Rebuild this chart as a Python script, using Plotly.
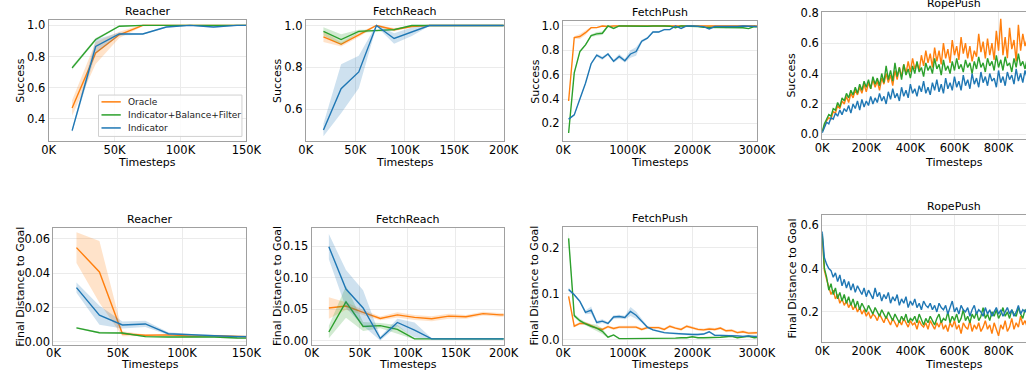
import plotly.graph_objects as go

W, H = 1030, 374          # reference picture size (layout positions are given in these pixels)
PAGE_W = 1045             # page width that the photographed window shows across its 1030 pixels
FONT = "DejaVu Sans"

# ---------------- data ----------------
SERIES = ["Oracle", "Indicator+Balance+Filter", "Indicator"]
COLORS = {"Oracle": "#ff7f0e", "Indicator+Balance+Filter": "#2ca02c", "Indicator": "#1f77b4"}
BANDS = {"Oracle": "rgba(255,127,14,0.22)", "Indicator+Balance+Filter": "rgba(44,160,44,0.22)",
         "Indicator": "rgba(31,119,180,0.22)"}

reacher_x = [17857, 35714, 53571, 71429, 89286, 107143, 125000, 142857, 160714]
fetchreach_x = [17857, 35714, 53571, 71429, 89286, 107143, 125000, 142857, 160714, 178571, 196429, 214286]
fetchpush_x = [87000 * k for k in range(1, 36)]
ropepush_x = [10000 * k for k in range(0, 94)]

# Reacher success
reacher_succ_oracle = [0.47, 0.823, 0.94, 1.0, 1.0, 1.0, 1.0, 1.0, 1.0]
reacher_succ_oracle_err = [0.05, 0.07, 0.02, 0.005, 0.003, 0.003, 0.005, 0.003, 0.003]
reacher_succ_ibf = [0.728, 0.91, 0.995, 1.0, 1.0, 1.0, 1.0, 1.0, 1.0]
reacher_succ_ibf_err = [0.012, 0.01, 0.004, 0.002, 0.002, 0.002, 0.002, 0.002, 0.002]
reacher_succ_ind = [0.325, 0.865, 0.945, 0.945, 0.99, 1.0, 0.99, 1.0, 1.0]
reacher_succ_ind_err = [0.01, 0.045, 0.01, 0.005, 0.005, 0.003, 0.005, 0.003, 0.003]

# Reacher distance
reacher_dist_oracle = [0.0549, 0.0407, 0.0047, 0.0038, 0.004, 0.0033, 0.0036, 0.0028, 0.0027]
reacher_dist_oracle_err = [0.009, 0.018, 0.0015, 0.0005, 0.0005, 0.0005, 0.0005, 0.0005, 0.0005]
reacher_dist_ibf = [0.0081, 0.0053, 0.0051, 0.003, 0.0028, 0.003, 0.0028, 0.0022, 0.0021]
reacher_dist_ibf_err = [0.0005, 0.0005, 0.0005, 0.0004, 0.0004, 0.0004, 0.0004, 0.0004, 0.0004]
reacher_dist_ind = [0.0316, 0.0155, 0.0098, 0.0104, 0.0047, 0.004, 0.0035, 0.003, 0.003]
reacher_dist_ind_err = [0.003, 0.0055, 0.002, 0.0018, 0.0008, 0.0005, 0.0005, 0.0005, 0.0005]

# FetchReach success
fetchreach_succ_oracle = [0.946, 0.91, 0.955, 1.0, 0.98, 0.995, 1.0, 1.0, 1.0, 1.0, 1.0, 1.0]
fetchreach_succ_oracle_err = [0.025, 0.01, 0.01, 0.003, 0.008, 0.003, 0.002, 0.002, 0.002, 0.002, 0.002, 0.002]
fetchreach_succ_ibf = [0.972, 0.933, 0.972, 0.975, 0.98, 1.0, 1.0, 1.0, 1.0, 1.0, 1.0, 1.0]
fetchreach_succ_ibf_err = [0.02, 0.025, 0.008, 0.005, 0.005, 0.002, 0.002, 0.002, 0.002, 0.002, 0.002, 0.002]
fetchreach_succ_ind = [0.501, 0.698, 0.778, 1.0, 0.938, 0.97, 1.0, 1.0, 1.0, 1.0, 1.0, 1.0]
fetchreach_succ_ind_err = [0.03, 0.117, 0.078, 0.005, 0.025, 0.02, 0.002, 0.002, 0.002, 0.002, 0.002, 0.002]

# FetchReach distance
fetchreach_dist_oracle = [0.052, 0.055, 0.045, 0.0354, 0.041, 0.037, 0.035, 0.039, 0.038, 0.043, 0.041, 0.041]
fetchreach_dist_oracle_err = [0.017, 0.006, 0.004, 0.003, 0.004, 0.004, 0.004, 0.004, 0.003, 0.003, 0.003, 0.003]
fetchreach_dist_ibf = [0.0139, 0.0616, 0.0226, 0.024, 0.018, 0.003, 0.003, 0.003, 0.003, 0.003, 0.003, 0.003]
fetchreach_dist_ibf_err = [0.01, 0.025, 0.007, 0.004, 0.007, 0.001, 0.001, 0.001, 0.001, 0.001, 0.001, 0.001]
fetchreach_dist_ind = [0.149, 0.082, 0.052, 0.0036, 0.029, 0.017, 0.003, 0.003, 0.003, 0.003, 0.003, 0.003]
fetchreach_dist_ind_err = [0.02, 0.03, 0.028, 0.003, 0.006, 0.012, 0.001, 0.001, 0.001, 0.001, 0.001, 0.001]

# FetchPush success
fetchpush_succ_oracle = [0.384, 0.905, 0.913, 0.945, 0.986, 0.986, 1.0, 0.995, 1.0, 1.0, 1.0, 0.998,
                         1.0, 1.0, 0.997, 1.0, 1.0, 0.995, 1.0, 1.0, 0.998, 1.0, 1.0, 0.997, 1.0,
                         0.998, 1.0, 0.996, 0.998, 1.0, 0.997, 1.0, 0.998, 0.997, 1.0]
fetchpush_succ_oracle_err = [0.005, 0.01, 0.02, 0.02, 0.008, 0.005, 0.003, 0.003, 0.003, 0.003, 0.003, 0.003,
                             0.003, 0.003, 0.003, 0.003, 0.003, 0.003, 0.003, 0.003, 0.003, 0.003, 0.003,
                             0.003, 0.003, 0.003, 0.003, 0.003, 0.003, 0.003, 0.003, 0.003, 0.003, 0.003, 0.003]
fetchpush_succ_ibf = [0.121, 0.615, 0.79, 0.845, 0.92, 0.935, 0.94, 1.0, 0.98, 1.0, 1.0, 0.998, 1.0,
                      1.0, 0.998, 1.0, 0.997, 1.0, 0.998, 0.985, 1.0, 1.0, 0.995, 0.995, 0.99, 0.99,
                      0.985, 0.99, 0.985, 0.99, 0.99, 0.985, 0.978, 0.995, 0.99]
fetchpush_succ_ibf_err = [0.005, 0.01, 0.01, 0.01, 0.01, 0.015, 0.015, 0.005, 0.005, 0.003, 0.003, 0.003,
                          0.003, 0.003, 0.003, 0.003, 0.003, 0.003, 0.003, 0.003, 0.003, 0.003, 0.003,
                          0.003, 0.003, 0.003, 0.003, 0.003, 0.003, 0.003, 0.003, 0.003, 0.003, 0.003, 0.003]
fetchpush_succ_ind = [0.235, 0.27, 0.40, 0.53, 0.69, 0.76, 0.735, 0.77, 0.71, 0.75, 0.715, 0.77, 0.79,
                      0.875, 0.90, 0.95, 0.95, 0.97, 0.97, 1.0, 0.98, 1.0, 1.0, 0.995, 0.995, 0.975,
                      0.995, 0.995, 0.995, 0.99, 0.995, 1.0, 1.0, 0.995, 0.995]
fetchpush_succ_ind_err = [0.008, 0.008, 0.008, 0.008, 0.01, 0.012, 0.015, 0.01, 0.012, 0.02, 0.015, 0.03,
                          0.035, 0.012, 0.01, 0.008, 0.008, 0.008, 0.006, 0.003, 0.003, 0.003, 0.003,
                          0.003, 0.003, 0.003, 0.003, 0.003, 0.003, 0.003, 0.003, 0.003, 0.003, 0.003, 0.003]

# FetchPush distance
fetchpush_dist_oracle = [0.094, 0.029, 0.035, 0.035, 0.03, 0.025, 0.022, 0.028, 0.024, 0.027, 0.027,
                         0.027, 0.027, 0.022, 0.026, 0.026, 0.026, 0.022, 0.029, 0.025, 0.022, 0.029,
                         0.025, 0.022, 0.021, 0.023, 0.022, 0.025, 0.019, 0.02, 0.015, 0.017, 0.014,
                         0.015, 0.015]
fetchpush_dist_oracle_err = [0.004, 0.003, 0.003, 0.003, 0.003, 0.003, 0.003, 0.003, 0.003, 0.003, 0.003,
                             0.003, 0.003, 0.003, 0.003, 0.003, 0.003, 0.003, 0.003, 0.003, 0.003, 0.003,
                             0.003, 0.003, 0.003, 0.003, 0.003, 0.003, 0.003, 0.003, 0.003, 0.003, 0.003,
                             0.003, 0.003]
fetchpush_dist_ibf = [0.22, 0.052, 0.041, 0.034, 0.029, 0.025, 0.018, 0.005, 0.01, 0.002, 0.002, 0.002,
                      0.002, 0.002, 0.003, 0.003, 0.003, 0.003, 0.002, 0.003, 0.004, 0.004, 0.006, 0.004,
                      0.004, 0.004, 0.005, 0.005, 0.006, 0.007, 0.004, 0.006, 0.007, 0.004, 0.005]
fetchpush_dist_ibf_err = [0.015, 0.004, 0.004, 0.004, 0.005, 0.007, 0.006, 0.002, 0.002, 0.001, 0.001,
                          0.001, 0.001, 0.001, 0.001, 0.001, 0.001, 0.001, 0.001, 0.001, 0.001, 0.001,
                          0.001, 0.001, 0.001, 0.001, 0.001, 0.001, 0.001, 0.001, 0.001, 0.001, 0.001,
                          0.001, 0.001]
fetchpush_dist_ind = [0.109, 0.0975, 0.083, 0.059, 0.064, 0.037, 0.04, 0.035, 0.049, 0.05, 0.048, 0.061,
                      0.053, 0.041, 0.027, 0.021, 0.018, 0.015, 0.014, 0.013, 0.012, 0.011, 0.011, 0.011,
                      0.012, 0.017, 0.009, 0.009, 0.009, 0.008, 0.008, 0.007, 0.008, 0.007, 0.007]
fetchpush_dist_ind_err = [0.004, 0.003, 0.003, 0.004, 0.008, 0.004, 0.004, 0.003, 0.004, 0.004, 0.004,
                          0.01, 0.008, 0.004, 0.003, 0.002, 0.002, 0.002, 0.002, 0.002, 0.002, 0.002,
                          0.002, 0.002, 0.002, 0.002, 0.002, 0.002, 0.002, 0.002, 0.002, 0.002, 0.002,
                          0.002, 0.002]

# RopePush success (every 10K steps)
ropepush_succ_oracle = [0.02, 0.06, 0.09, 0.11, 0.10, 0.15, 0.14, 0.19, 0.17, 0.22,
                        0.20, 0.25, 0.21, 0.27, 0.24, 0.29, 0.26, 0.31, 0.27, 0.33,
                        0.28, 0.34, 0.30, 0.36, 0.31, 0.35, 0.29, 0.37, 0.33, 0.40,
                        0.34, 0.39, 0.32, 0.42, 0.36, 0.44, 0.38, 0.46, 0.40, 0.48,
                        0.41, 0.50, 0.43, 0.47, 0.42, 0.52, 0.45, 0.55, 0.47, 0.53,
                        0.44, 0.57, 0.48, 0.55, 0.46, 0.60, 0.50, 0.56, 0.47, 0.62,
                        0.52, 0.58, 0.49, 0.64, 0.53, 0.60, 0.50, 0.58, 0.48, 0.55,
                        0.51, 0.66, 0.54, 0.61, 0.50, 0.63, 0.52, 0.60, 0.49, 0.68,
                        0.55, 0.76, 0.52, 0.64, 0.50, 0.70, 0.56, 0.62, 0.48, 0.72,
                        0.55, 0.66, 0.58, 0.63]
ropepush_succ_ibf = [0.02, 0.07, 0.10, 0.13, 0.12, 0.17, 0.16, 0.21, 0.18, 0.24,
                     0.22, 0.27, 0.24, 0.29, 0.26, 0.31, 0.27, 0.33, 0.29, 0.35,
                     0.31, 0.36, 0.30, 0.38, 0.33, 0.37, 0.32, 0.40, 0.34, 0.45,
                     0.36, 0.42, 0.35, 0.47, 0.38, 0.44, 0.36, 0.46, 0.39, 0.43,
                     0.37, 0.45, 0.40, 0.48, 0.41, 0.44, 0.38, 0.47, 0.42, 0.45,
                     0.40, 0.50, 0.43, 0.46, 0.39, 0.49, 0.42, 0.45, 0.40, 0.48,
                     0.42, 0.50, 0.43, 0.46, 0.41, 0.49, 0.44, 0.47, 0.40, 0.48,
                     0.43, 0.51, 0.44, 0.47, 0.41, 0.50, 0.45, 0.48, 0.42, 0.52,
                     0.44, 0.49, 0.42, 0.51, 0.45, 0.47, 0.41, 0.50, 0.44, 0.53,
                     0.45, 0.48, 0.43, 0.50]
ropepush_succ_ind = [0.01, 0.05, 0.08, 0.07, 0.11, 0.10, 0.14, 0.12, 0.16, 0.13,
                     0.17, 0.15, 0.19, 0.14, 0.20, 0.17, 0.22, 0.16, 0.23, 0.18,
                     0.22, 0.19, 0.25, 0.20, 0.24, 0.21, 0.27, 0.22, 0.25, 0.20,
                     0.28, 0.23, 0.30, 0.24, 0.27, 0.22, 0.31, 0.25, 0.29, 0.24,
                     0.33, 0.27, 0.30, 0.25, 0.32, 0.28, 0.35, 0.27, 0.31, 0.26,
                     0.34, 0.29, 0.36, 0.28, 0.33, 0.27, 0.37, 0.30, 0.34, 0.29,
                     0.38, 0.31, 0.35, 0.29, 0.39, 0.32, 0.36, 0.30, 0.40, 0.33,
                     0.37, 0.31, 0.41, 0.34, 0.38, 0.32, 0.40, 0.35, 0.37, 0.31,
                     0.42, 0.34, 0.38, 0.32, 0.41, 0.36, 0.39, 0.33, 0.43, 0.35,
                     0.40, 0.34, 0.42, 0.37]

# RopePush distance
ropepush_dist_oracle = [0.55, 0.39, 0.35, 0.31, 0.28, 0.30, 0.26, 0.28, 0.24, 0.26,
                        0.23, 0.25, 0.22, 0.24, 0.21, 0.23, 0.20, 0.22, 0.19, 0.21,
                        0.18, 0.20, 0.17, 0.19, 0.18, 0.16, 0.19, 0.17, 0.15, 0.18,
                        0.16, 0.14, 0.17, 0.15, 0.13, 0.16, 0.14, 0.17, 0.15, 0.13,
                        0.16, 0.14, 0.15, 0.12, 0.16, 0.14, 0.13, 0.15, 0.12, 0.16,
                        0.14, 0.12, 0.15, 0.13, 0.16, 0.12, 0.14, 0.11, 0.15, 0.13,
                        0.16, 0.12, 0.14, 0.10, 0.15, 0.13, 0.12, 0.16, 0.11, 0.14,
                        0.12, 0.15, 0.11, 0.13, 0.16, 0.12, 0.14, 0.10, 0.15, 0.12,
                        0.09, 0.14, 0.12, 0.16, 0.11, 0.13, 0.17, 0.12, 0.15, 0.13,
                        0.18, 0.14, 0.16, 0.13]
ropepush_dist_ibf = [0.56, 0.40, 0.36, 0.30, 0.33, 0.28, 0.31, 0.26, 0.29, 0.25,
                     0.28, 0.24, 0.27, 0.23, 0.26, 0.22, 0.25, 0.21, 0.24, 0.22,
                     0.20, 0.23, 0.21, 0.19, 0.22, 0.20, 0.18, 0.21, 0.19, 0.17,
                     0.20, 0.18, 0.16, 0.19, 0.17, 0.15, 0.18, 0.16, 0.19, 0.15,
                     0.17, 0.16, 0.18, 0.15, 0.19, 0.16, 0.14, 0.17, 0.15, 0.18,
                     0.16, 0.14, 0.17, 0.19, 0.15, 0.17, 0.16, 0.20, 0.15, 0.18,
                     0.16, 0.19, 0.15, 0.17, 0.21, 0.16, 0.18, 0.15, 0.19, 0.17,
                     0.20, 0.16, 0.18, 0.22, 0.17, 0.19, 0.16, 0.20, 0.18, 0.21,
                     0.17, 0.19, 0.22, 0.18, 0.20, 0.17, 0.21, 0.19, 0.18, 0.22,
                     0.19, 0.17, 0.21, 0.20]
ropepush_dist_ind = [0.57, 0.45, 0.42, 0.40, 0.39, 0.36, 0.38, 0.34, 0.37, 0.32,
                     0.35, 0.31, 0.34, 0.30, 0.33, 0.29, 0.32, 0.30, 0.28, 0.31,
                     0.27, 0.30, 0.28, 0.26, 0.31, 0.27, 0.29, 0.25, 0.28, 0.26,
                     0.29, 0.24, 0.27, 0.25, 0.28, 0.23, 0.26, 0.24, 0.27, 0.22,
                     0.25, 0.23, 0.26, 0.22, 0.24, 0.21, 0.25, 0.23, 0.22, 0.24,
                     0.21, 0.23, 0.20, 0.24, 0.22, 0.21, 0.23, 0.19, 0.22, 0.25,
                     0.20, 0.22, 0.19, 0.23, 0.21, 0.20, 0.22, 0.18, 0.21, 0.23,
                     0.19, 0.21, 0.20, 0.18, 0.22, 0.19, 0.21, 0.18, 0.20, 0.22,
                     0.19, 0.21, 0.18, 0.20, 0.22, 0.19, 0.21, 0.18, 0.20, 0.23,
                     0.19, 0.21, 0.20, 0.22]

# tick labels
xt_reacher = [0, 50000, 100000, 150000]
xl_reacher = ["0K", "50K", "100K", "150K"]
xt_fetchreach = [0, 50000, 100000, 150000, 200000]
xl_fetchreach = ["0K", "50K", "100K", "150K", "200K"]
xt_fetchpush = [0, 1000000, 2000000, 3000000]
xl_fetchpush = ["0K", "1000K", "2000K", "3000K"]
xt_ropepush = [0, 200000, 400000, 600000, 800000]
xl_ropepush = ["0K", "200K", "400K", "600K", "800K"]

# ---------------- panels ----------------
# box in reference pixels: (left, right, top, bottom)
panels = [
    dict(name="Reacher", box=(42, 242, 14, 139), xr=[0, 150000], yr=[0.257, 1.037],
         xt=xt_reacher, xl=xl_reacher, yt=[0.4, 0.6, 0.8, 1.0], yl=["0.4", "0.6", "0.8", "1.0"],
         ytitle="Success", ytx=13.5, x=reacher_x,
         data=[(reacher_succ_oracle, reacher_succ_oracle_err), (reacher_succ_ibf, reacher_succ_ibf_err),
               (reacher_succ_ind, reacher_succ_ind_err)], right=True),
    dict(name="FetchReach", box=(302, 502, 14, 139), xr=[0, 200000], yr=[0.447, 1.028],
         xt=xt_fetchreach, xl=xl_fetchreach, yt=[0.6, 0.8, 1.0], yl=["0.6", "0.8", "1.0"],
         ytitle="Success", ytx=273.5, x=fetchreach_x,
         data=[(fetchreach_succ_oracle, fetchreach_succ_oracle_err), (fetchreach_succ_ibf, fetchreach_succ_ibf_err),
               (fetchreach_succ_ind, fetchreach_succ_ind_err)], right=True),
    dict(name="FetchPush", box=(562, 758, 15, 139), xr=[0, 3000000], yr=[0.0535, 1.044],
         xt=xt_fetchpush, xl=xl_fetchpush, yt=[0.2, 0.4, 0.6, 0.8, 1.0], yl=["0.2", "0.4", "0.6", "0.8", "1.0"],
         ytitle="Success", ytx=534.5, x=fetchpush_x,
         data=[(fetchpush_succ_oracle, fetchpush_succ_oracle_err), (fetchpush_succ_ibf, fetchpush_succ_ibf_err),
               (fetchpush_succ_ind, fetchpush_succ_ind_err)], right=True),
    dict(name="RopePush", box=(824, 1030, 6, 137), xr=[0, 924500], yr=[-0.032, 0.805],
         xt=xt_ropepush, xl=xl_ropepush, yt=[0.0, 0.2, 0.4, 0.6, 0.8], yl=["0.0", "0.2", "0.4", "0.6", "0.8"],
         ytitle="Success", ytx=793.5, x=ropepush_x,
         data=[(ropepush_succ_oracle, None), (ropepush_succ_ibf, None), (ropepush_succ_ind, None)], right=False),
    dict(name="Reacher", box=(47, 242, 228, 348), xr=[0, 150000], yr=[-0.0017, 0.0664],
         xt=xt_reacher, xl=xl_reacher, yt=[0.0, 0.02, 0.04, 0.06], yl=["0.00", "0.02", "0.04", "0.06"],
         ytitle="Final Distance to Goal", ytx=13.5, x=reacher_x,
         data=[(reacher_dist_oracle, reacher_dist_oracle_err), (reacher_dist_ibf, reacher_dist_ibf_err),
               (reacher_dist_ind, reacher_dist_ind_err)], right=True),
    dict(name="FetchReach", box=(308, 502, 228, 348), xr=[0, 200000], yr=[-0.0062, 0.1788],
         xt=xt_fetchreach, xl=xl_fetchreach, yt=[0.0, 0.05, 0.10, 0.15], yl=["0.00", "0.05", "0.10", "0.15"],
         ytitle="Final Distance to Goal", ytx=273.5, x=fetchreach_x,
         data=[(fetchreach_dist_oracle, fetchreach_dist_oracle_err), (fetchreach_dist_ibf, fetchreach_dist_ibf_err),
               (fetchreach_dist_ind, fetchreach_dist_ind_err)], right=True),
    dict(name="FetchPush", box=(562, 758, 227, 348), xr=[0, 3000000], yr=[-0.0112, 0.245],
         xt=xt_fetchpush, xl=xl_fetchpush, yt=[0.0, 0.1, 0.2], yl=["0.0", "0.1", "0.2"],
         ytitle="Final Distance to Goal", ytx=533.5, x=fetchpush_x,
         data=[(fetchpush_dist_oracle, fetchpush_dist_oracle_err), (fetchpush_dist_ibf, fetchpush_dist_ibf_err),
               (fetchpush_dist_ind, fetchpush_dist_ind_err)], right=True),
    dict(name="RopePush", box=(824, 1030, 215, 345), xr=[0, 924500], yr=[0.0625, 0.645],
         xt=xt_ropepush, xl=xl_ropepush, yt=[0.2, 0.4, 0.6], yl=["0.2", "0.4", "0.6"],
         ytitle="Final Distance to Goal", ytx=793.5, x=ropepush_x,
         data=[(ropepush_dist_oracle, None), (ropepush_dist_ibf, None), (ropepush_dist_ind, None)], right=False),
]


def fx(p):
    return p / W


def fy(p):
    return 1 - p / H


fig = go.Figure()
annotations = []
shapes = []
GRID = "#ebebeb"
EDGE = "#a0a0a0"
TXT = "#000000"
FS_TICK = 11.5
FS = 11

for i, p in enumerate(panels, start=1):
    l, r, t, b = p["box"]
    cx = (l + r) / 2 if p["right"] else (l + 1091) / 2
    xa = "x" if i == 1 else f"x{i}"
    ya = "y" if i == 1 else f"y{i}"
    for s, (vals, err) in zip(SERIES, p["data"]):
        xs = p["x"]
        if err is not None:
            hi = [v + e for v, e in zip(vals, err)]
            lo = [v - e for v, e in zip(vals, err)]
            fig.add_trace(go.Scatter(x=xs + xs[::-1], y=hi + lo[::-1], fill="toself",
                                     fillcolor=BANDS[s], line=dict(width=0), mode="lines",
                                     hoverinfo="skip", showlegend=False, xaxis=xa, yaxis=ya))
        fig.add_trace(go.Scatter(x=xs, y=vals, mode="lines", name=s,
                                 line=dict(color=COLORS[s], width=1.4),
                                 showlegend=False, xaxis=xa, yaxis=ya))
    key = "" if i == 1 else str(i)
    fig.update_layout(**{
        f"xaxis{key}": dict(domain=[fx(l), min(1.0, fx(r))], range=p["xr"], anchor=ya,
                            tickvals=p["xt"], ticktext=p["xl"], showgrid=True, gridcolor=GRID,
                            gridwidth=1, zeroline=False, showline=True, linecolor=EDGE, linewidth=1,
                            mirror=True, ticks="", ticklabelstandoff=-2,
                            tickfont=dict(family=FONT, size=FS_TICK, color=TXT)),
        f"yaxis{key}": dict(domain=[fy(b), fy(t)], range=p["yr"], anchor=xa,
                            tickvals=p["yt"], ticktext=p["yl"], showgrid=True, gridcolor=GRID,
                            gridwidth=1, zeroline=False, showline=True, linecolor=EDGE, linewidth=1,
                            mirror=p["right"], ticks="", tickfont=dict(family=FONT, size=FS_TICK, color=TXT)),
    })
    annotations.append(dict(text=p["name"], x=fx(cx), y=fy(t), xref="paper", yref="paper",
                            xanchor="center", yanchor="bottom", showarrow=False,
                            font=dict(family=FONT, size=FS, color=TXT)))
    annotations.append(dict(text="Timesteps", x=fx(cx), y=fy(160.5 if t < 100 else 368.5), xref="paper",
                            yref="paper", xanchor="center", yanchor="middle", showarrow=False,
                            font=dict(family=FONT, size=FS, color=TXT)))
    annotations.append(dict(text=p["ytitle"], x=fx(p["ytx"]), y=fy((t + b) / 2), xref="paper", yref="paper",
                            xanchor="center", yanchor="middle", textangle=-90, showarrow=False,
                            font=dict(family=FONT, size=FS, color=TXT)))

# legend (inside Reacher success panel)
shapes.append(dict(type="rect", xref="paper", yref="paper", x0=fx(92.5), x1=fx(237.5), y0=fy(134), y1=fy(91.5),
                   line=dict(color="#d0d0d0", width=1), fillcolor="rgba(255,255,255,0.85)", layer="above"))
for j, s in enumerate(SERIES):
    yy = 98.5 + j * 13.4
    shapes.append(dict(type="line", xref="paper", yref="paper", x0=fx(95.5), x1=fx(115), y0=fy(yy), y1=fy(yy),
                       line=dict(color=COLORS[s], width=1.5), layer="above"))
    annotations.append(dict(text=s, x=fx(120.5), y=fy(yy), xref="paper", yref="paper", xanchor="left",
                            yanchor="middle", showarrow=False, font=dict(family=FONT, size=9, color="#222")))

fig.update_layout(width=PAGE_W, height=H, margin=dict(l=0, r=0, t=0, b=0), paper_bgcolor="white",
                  plot_bgcolor="white", showlegend=False, annotations=annotations, shapes=shapes,
                  font=dict(family=FONT, size=FS, color=TXT))

fig.write_html("out.html", config={"displayModeBar": False}, post_script=(
    "document.body.style.margin='0';document.body.style.overflow='hidden';"
    "document.documentElement.style.overflow='hidden';"))
